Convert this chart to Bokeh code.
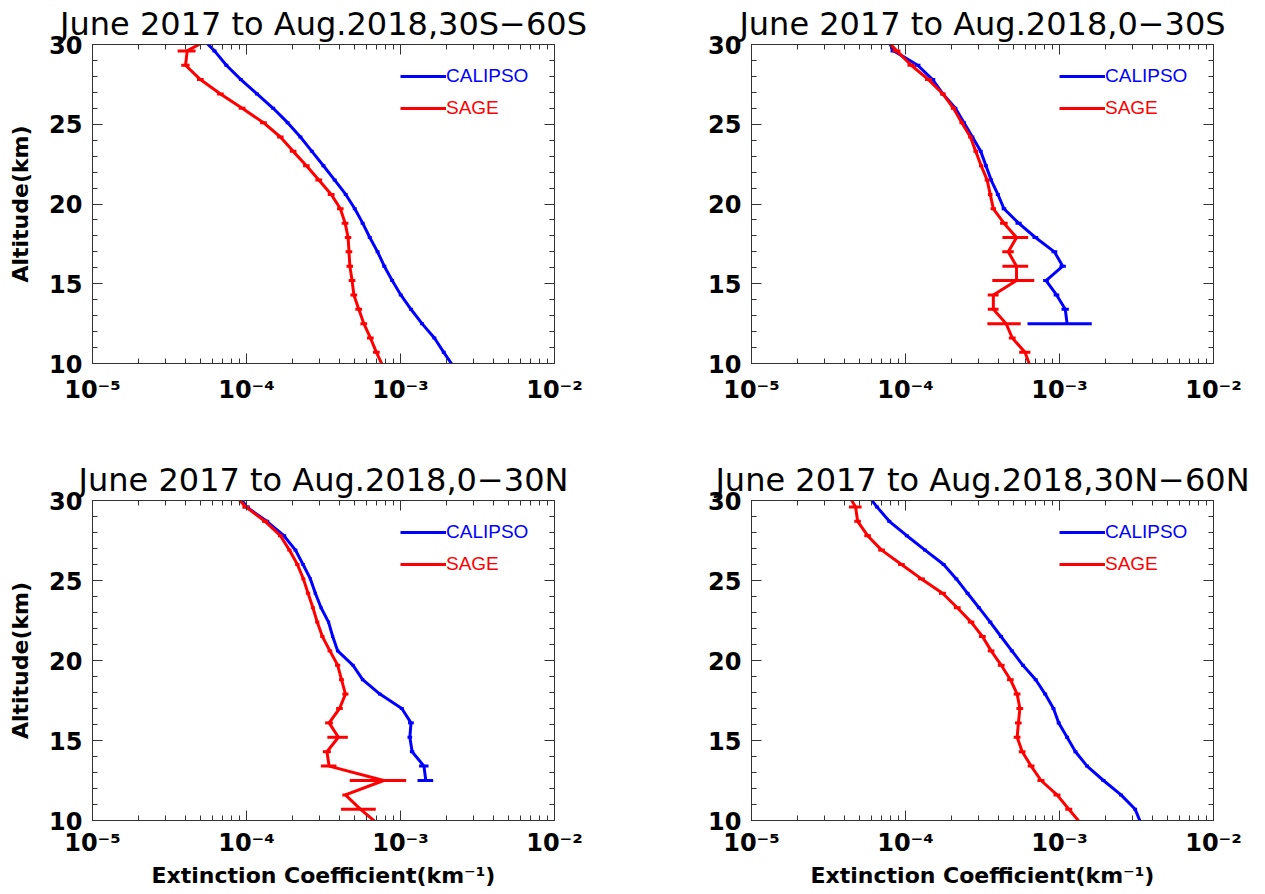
import numpy as np
from bokeh.plotting import figure
from bokeh.models import (Range1d, FixedTicker, LogAxis, LinearAxis, CustomJSTickFormatter,
                          Legend, LegendItem, ColumnDataSource)
from bokeh.layouts import row, column
from bokeh.embed import file_html
from bokeh.resources import INLINE

nan = float("nan")

# ---------------- data (altitude grid, bottom -> top) ----------------
altitude_km = [9.8, 10.7, 11.6, 12.5, 13.4, 14.3, 15.2, 16.1, 17.0, 17.9, 18.8, 19.7,
               20.6, 21.5, 22.4, 23.3, 24.2, 25.1, 26.0, 26.9, 27.8, 28.7, 29.6, 30.5]

titles = ["June 2017 to Aug.2018,30S\u221260S", "June 2017 to Aug.2018,0\u221230S",
          "June 2017 to Aug.2018,0\u221230N", "June 2017 to Aug.2018,30N\u221260N"]
series_names = ["CALIPSO", "SAGE"]

# Panel 1: 30S-60S
p1_calipso = [2.21e-3, 1.91e-3, 1.66e-3, 1.38e-3, 1.17e-3, 1.005e-3, 8.83e-4, 7.85e-4, 7.1e-4, 6.32e-4,
              5.68e-4, 5.05e-4, 4.41e-4, 3.74e-4, 3.16e-4, 2.66e-4, 2.24e-4, 1.85e-4, 1.49e-4, 1.17e-4,
              9.2e-5, 7.4e-5, 6.2e-5, 5.0e-5]
p1_calipso_err = [6.6e-5, 5.7e-5, 5.0e-5, 4.1e-5, 3.5e-5, 3.0e-5, 2.6e-5, 2.4e-5, 2.1e-5, 1.9e-5,
                  1.7e-5, 1.5e-5, 1.3e-5, 1.1e-5, 9.5e-6, 8.0e-6, 6.7e-6, 5.5e-6, 4.5e-6, 3.5e-6,
                  2.7e-6, 2.2e-6, 1.9e-6, 1.5e-6]
p1_sage = [7.71e-4, 6.98e-4, 6.38e-4, 5.78e-4, 5.36e-4, 4.98e-4, 4.85e-4, 4.69e-4, 4.63e-4, 4.57e-4,
           4.37e-4, 4.07e-4, 3.55e-4, 2.95e-4, 2.45e-4, 2.01e-4, 1.66e-4, 1.29e-4, 9.38e-5, 6.78e-5,
           5.02e-5, 4.02e-5, 4.12e-5, 6.1e-5]
p1_sage_err = [3.9e-5, 3.5e-5, 3.2e-5, 2.9e-5, 2.7e-5, 2.5e-5, 2.4e-5, 2.3e-5, 2.3e-5, 2.2e-5,
               2.2e-5, 2.0e-5, 1.8e-5, 1.5e-5, 1.2e-5, 1.0e-5, 8.0e-6, 6.5e-6, 4.7e-6, 3.4e-6,
               2.5e-6, 2.5e-6, 5.5e-6, 3.0e-6]

# Panel 2: 0-30S
p2_calipso = [nan, nan, nan, 1.12e-3, 1.09e-3, 9.57e-4, 8.18e-4, 1.05e-3, 9.27e-4, 6.98e-4,
              5.43e-4, 4.36e-4, 3.98e-4, 3.6e-4, 3.33e-4, 3.08e-4, 2.72e-4, 2.4e-4, 2.11e-4, 1.75e-4,
              1.5e-4, 1.2e-4, 8.4e-5, 7.4e-5]
p2_calipso_err = [nan, nan, nan, 5.0e-4, 6.0e-5, 4.0e-5, 3.5e-5, 5.0e-5, 4.0e-5, 3.0e-5,
                  2.5e-5, 1.5e-5, 1.2e-5, 1.0e-5, 1.0e-5, 9.0e-6, 8.0e-6, 7.0e-6, 6.0e-6, 6.0e-6,
                  6.0e-6, 5.0e-6, 4.0e-6, 3.0e-6]
p2_sage = [6.46e-4, 5.97e-4, 4.94e-4, 4.5e-4, 3.72e-4, 3.72e-4, 5.26e-4, 5.26e-4, 4.65e-4, 5.26e-4,
           4.36e-4, 3.72e-4, 3.55e-4, 3.39e-4, 3.1e-4, 2.86e-4, 2.64e-4, 2.32e-4, 2.05e-4, 1.75e-4,
           1.41e-4, 1.09e-4, 8.77e-5, 7.2e-5]
p2_sage_err = [3.0e-5, 5.0e-5, 2.5e-5, 1.1e-4, 3.0e-5, 3.0e-5, 1.6e-4, 1.0e-4, 4.0e-5, 1.0e-4,
               2.5e-5, 1.5e-5, 1.2e-5, 1.2e-5, 1.0e-5, 1.0e-5, 9.0e-6, 8.0e-6, 8.0e-6, 7.0e-6,
               7.0e-6, 6.0e-6, 5.0e-6, 4.0e-6]

# Panel 3: 0-30N
p3_calipso = [nan, nan, nan, 1.46e-3, 1.42e-3, 1.19e-3, 1.15e-3, 1.17e-3, 1.02e-3, 7.35e-4,
              5.68e-4, 4.92e-4, 3.91e-4, 3.63e-4, 3.41e-4, 3.05e-4, 2.8e-4, 2.6e-4, 2.33e-4, 2.08e-4,
              1.75e-4, 1.355e-4, 1.0e-4, 8.7e-5]
p3_calipso_err = [nan, nan, nan, 1.7e-4, 1.0e-4, 4.0e-5, 4.0e-5, 5.0e-5, 3.0e-5, 2.0e-5,
                  1.5e-5, 1.2e-5, 1.0e-5, 8.0e-6, 8.0e-6, 7.0e-6, 7.0e-6, 6.0e-6, 6.0e-6, 6.0e-6,
                  6.0e-6, 5.0e-6, 5.0e-6, 3.0e-6]
p3_sage = [7.1e-4, 5.51e-4, 4.39e-4, 7.78e-4, 3.44e-4, 3.33e-4, 3.95e-4, 3.44e-4, 4.02e-4, 4.39e-4,
           4.14e-4, 3.91e-4, 3.48e-4, 3.11e-4, 2.88e-4, 2.7e-4, 2.51e-4, 2.34e-4, 2.14e-4, 1.9e-4,
           1.66e-4, 1.32e-4, 9.9e-5, 8.1e-5]
p3_sage_err = [2.0e-5, 1.4e-4, 2.0e-5, 3.1e-4, 4.0e-5, 2.0e-5, 6.0e-5, 2.0e-5, 2.0e-5, 2.0e-5,
               1.5e-5, 1.5e-5, 1.2e-5, 1.0e-5, 9.0e-6, 8.0e-6, 8.0e-6, 7.0e-6, 7.0e-6, 6.0e-6,
               6.0e-6, 6.0e-6, 5.0e-6, 4.0e-6]

# Panel 4: 30N-60N
p4_calipso = [3.39e-3, 3.1e-3, 2.51e-3, 1.93e-3, 1.51e-3, 1.27e-3, 1.12e-3, 9.89e-4, 9.14e-4, 8.07e-4,
              7.01e-4, 5.79e-4, 4.91e-4, 4.17e-4, 3.55e-4, 3.0e-4, 2.53e-4, 2.14e-4, 1.77e-4, 1.34e-4,
              1.02e-4, 7.85e-5, 6.53e-5, 5.5e-5]
p4_calipso_err = [1.0e-4, 9.0e-5, 7.5e-5, 5.8e-5, 4.5e-5, 3.8e-5, 3.4e-5, 3.0e-5, 2.7e-5, 2.4e-5,
                  2.1e-5, 1.7e-5, 1.5e-5, 1.3e-5, 1.1e-5, 9.0e-6, 7.6e-6, 6.4e-6, 5.3e-6, 4.0e-6,
                  3.0e-6, 2.4e-6, 2.0e-6, 1.6e-6]
p4_sage = [1.38e-3, 1.15e-3, 9.64e-4, 7.59e-4, 6.55e-4, 5.73e-4, 5.31e-4, 5.41e-4, 5.53e-4, 5.31e-4,
           4.8e-4, 4.19e-4, 3.6e-4, 3.16e-4, 2.67e-4, 2.17e-4, 1.74e-4, 1.27e-4, 9.42e-5, 7.0e-5,
           5.68e-5, 4.89e-5, 4.74e-5, 4.17e-5]
p4_sage_err = [7.0e-5, 6.0e-5, 5.0e-5, 4.0e-5, 3.3e-5, 2.9e-5, 2.7e-5, 2.7e-5, 2.8e-5, 2.7e-5,
               2.4e-5, 2.1e-5, 1.8e-5, 1.6e-5, 1.3e-5, 1.1e-5, 9.0e-6, 6.5e-6, 4.7e-6, 3.5e-6,
               2.8e-6, 2.4e-6, 4.5e-6, 2.0e-6]

x_major_ticks = [1e-5, 1e-4, 1e-3, 1e-2]
x_minor_ticks = [m * d for d in [1e-5, 1e-4, 1e-3] for m in range(2, 10)]
y_major_ticks = [10, 15, 20, 25, 30]
y_minor_ticks = list(range(10, 31))

x_label = "Extinction Coefficient(km\u207b\u00b9)"
y_label = "Altitude(km)"

# ---------------- styling ----------------
BLUE = "#0000ff"
RED = "#ff0000"
AXC = "#333333"
FRAME_W = 462

SUP_CODE = """
const s = {"-": "\\u207b", "0": "\\u2070", "1": "\\u00b9", "2": "\\u00b2", "3": "\\u00b3",
           "4": "\\u2074", "5": "\\u2075", "6": "\\u2076", "7": "\\u2077", "8": "\\u2078", "9": "\\u2079"};
const e = Math.round(Math.log10(tick));
return "10" + String(e).split("").map(c => s[c]).join("");
"""


def style_axis(ax):
    ax.axis_line_color = AXC
    ax.major_tick_line_color = AXC
    ax.minor_tick_line_color = AXC
    ax.major_tick_in = 10
    ax.major_tick_out = 0
    ax.minor_tick_in = 5
    ax.minor_tick_out = 0
    ax.major_label_text_font = "DejaVu Sans"
    ax.major_label_text_font_style = "bold"
    ax.major_label_text_font_size = "24px"
    ax.major_label_text_color = "black"


def blank_axis(ax):
    style_axis(ax)
    ax.formatter = CustomJSTickFormatter(code="return '';")
    ax.major_label_text_font_size = "0px"
    ax.major_label_standoff = 0


def make_panel(title, cal, cal_err, sage, sage_err, width, height, bl, br, bt, bb,
               xstand, ylab, xlab):
    p = figure(width=width, height=height, x_axis_type="log",
               x_range=Range1d(1e-5, 1e-2), y_range=Range1d(10, 30),
               output_backend="svg", toolbar_location=None,
               min_border_left=bl, min_border_right=br, min_border_top=bt, min_border_bottom=bb,
               background_fill_color="white", border_fill_color="white")
    p.outline_line_color = AXC
    p.outline_line_width = 1
    p.xgrid.visible = False
    p.ygrid.visible = False

    p.title.text = title
    p.title.text_font = "DejaVu Sans"
    p.title.text_font_size = "32px"
    p.title.text_font_style = "normal"
    p.title.text_color = "black"
    p.title.align = "center"
    p.title.standoff = 4

    xa = p.xaxis[0]
    style_axis(xa)
    xa.ticker = FixedTicker(ticks=x_major_ticks, minor_ticks=x_minor_ticks)
    xa.formatter = CustomJSTickFormatter(code=SUP_CODE)
    xa.major_label_standoff = xstand
    if xlab:
        xa.axis_label = x_label
        xa.axis_label_text_font = "DejaVu Sans"
        xa.axis_label_text_font_style = "bold"
        xa.axis_label_text_font_size = "22px"
        xa.axis_label_text_color = "black"
        xa.axis_label_standoff = 3

    ya = p.yaxis[0]
    style_axis(ya)
    ya.ticker = FixedTicker(ticks=y_major_ticks, minor_ticks=y_minor_ticks)
    ya.major_label_standoff = 10
    if ylab:
        ya.axis_label = y_label
        ya.axis_label_text_font = "DejaVu Sans"
        ya.axis_label_text_font_style = "bold"
        ya.axis_label_text_font_size = "22px"
        ya.axis_label_text_color = "black"
        ya.axis_label_standoff = 13

    top = LogAxis(ticker=FixedTicker(ticks=x_major_ticks, minor_ticks=x_minor_ticks))
    blank_axis(top)
    p.add_layout(top, "above")
    right = LinearAxis(ticker=FixedTicker(ticks=y_major_ticks, minor_ticks=y_minor_ticks))
    blank_axis(right)
    p.add_layout(right, "right")

    renderers = []
    for vals, errs, color in [(cal, cal_err, BLUE), (sage, sage_err, RED)]:
        v = np.array(vals, dtype=float)
        e = np.array(errs, dtype=float)
        src = ColumnDataSource(data=dict(y=np.array(altitude_km, dtype=float), x=v,
                                         lo=v - e, hi=v + e))
        r = p.line("x", "y", source=src, line_color=color, line_width=3)
        p.segment(x0="lo", y0="y", x1="hi", y1="y", source=src, line_color=color, line_width=3)
        renderers.append(r)

    frame_h = height - bt - bb
    # legend in IDL style: line from 1e-3 to 2e-3, at 28 km and 26 km
    gx = FRAME_W * 2.0 / 3.0
    for name, r, color, alt in [(series_names[0], renderers[0], BLUE, 28.0),
                                (series_names[1], renderers[1], RED, 26.0)]:
        gy = frame_h * (alt - 10.0) / 20.0
        leg = Legend(items=[LegendItem(label=name, renderers=[r])], location=(gx, gy - 12),
                     glyph_width=46, glyph_height=24, label_height=24, label_width=20,
                     label_standoff=0, padding=0, spacing=0, margin=0,
                     background_fill_alpha=0, border_line_alpha=0,
                     label_text_font="Liberation Sans", label_text_font_size="19px",
                     label_text_color=color, label_text_baseline="alphabetic")
        p.add_layout(leg)
    return p


p1 = make_panel(titles[0], p1_calipso, p1_calipso_err, p1_sage, p1_sage_err,
                640, 440, 92, 86, 44, 77, 12, True, False)
p2 = make_panel(titles[1], p2_calipso, p2_calipso_err, p2_sage, p2_sage_err,
                625, 440, 111, 52, 44, 77, 12, False, False)
p3 = make_panel(titles[2], p3_calipso, p3_calipso_err, p3_sage, p3_sage_err,
                640, 454, 92, 86, 60, 74, 8, True, True)
p4 = make_panel(titles[3], p4_calipso, p4_calipso_err, p4_sage, p4_sage_err,
                625, 454, 111, 52, 60, 74, 8, False, True)

layout = column(row(p1, p2), row(p3, p4))
open("out.html", "w").write(file_html(layout, INLINE))
